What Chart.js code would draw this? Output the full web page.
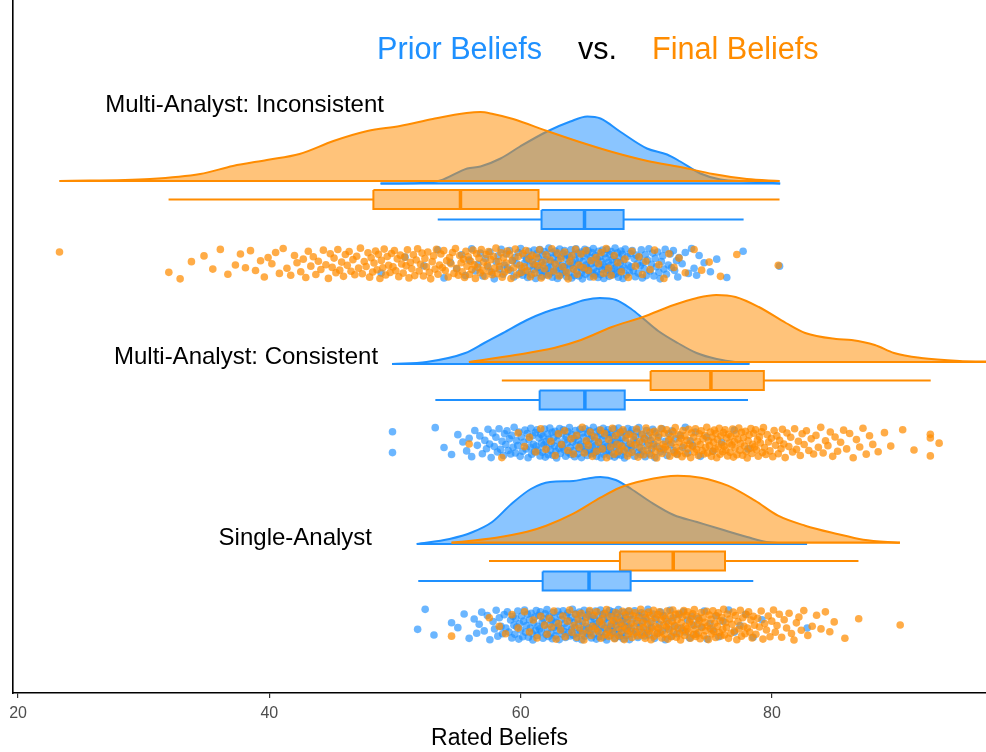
<!DOCTYPE html>
<html><head><meta charset="utf-8">
<script src="https://cdn.jsdelivr.net/npm/chart.js@4.4.1/dist/chart.umd.min.js"></script>
<style>html,body{margin:0;padding:0;background:#fff;overflow:hidden}canvas{display:block}</style>
</head><body>
<canvas id="c" width="986" height="752"></canvas>
<script>
// ---------------- DATA ----------------
const groupLabels = ['Multi-Analyst: Inconsistent', 'Multi-Analyst: Consistent', 'Single-Analyst'];
const seriesLabels = ['Prior Beliefs', 'Final Beliefs'];
const xTicks = [20, 40, 60, 80];
const xAxisTitle = 'Rated Beliefs';

// density curves (x = rating, d = relative density)
const densIncPriorX = [48.85,52.0,53.6,55.75,56.8,58.4,59.95,62.1,63.95,65.3,66.35,67.9,70.05,71.65,72.7,74.3,75.9,78.05,80.65];
const densIncPriorD = [0,0.5,3,15,17,25,37,52,62,67,65,52,35,29,22,10,4,2,0];
const densIncFinalX = [23.3,30.5,34.5,37.1,39.8,42.4,45.1,47.8,50.4,53.0,55.7,56.8,57.8,59.4,62.1,64.7,67.3,70.1,72.7,75.3,78.0,80.6];
const densIncFinalD = [0,2,7,15,21,27,40,50,55,62,68,69,67,62,50,39,29,20,14,7,2,0];
const densConPriorX = [49.76,52.5,55.6,57.1,58.6,60.5,62.0,63.6,65.1,66.3,67.6,68.8,69.7,70.95,72.5,74.0,75.6,78.2];
const densConPriorD = [0,2,11,21,31,44,52,58,64,66,64,55,46,33,21,11,5,0];
const densConFinalX = [55.88,59.57,62.65,64.8,67.26,69.73,72.18,74.03,75.57,77.1,78.95,81.11,82.64,85.1,86.33,88.18,89.71,91.87,94.94,97.0,98.0];
const densConFinalD = [0,7,14,22,35,45,57,64,67,65,55,39,29,23,22,17,9,4,1,0.4,0];
const densSinPriorX = [51.73,54.34,56.19,57.73,59.26,60.81,62.34,64.19,65.11,66.34,67.57,68.8,70.34,72.18,74.03,75.88,78.02,79.56,82.79];
const densSinPriorD = [0,5,12,22,40,55,62,63,65,67,64,55,42,29,22,15,7,2,0];
const densSinFinalX = [54.5,58.04,60.5,62.03,64.19,66.34,67.88,69.73,72.49,74.33,76.49,78.65,80.48,82.64,85.1,87.26,90.18];
const densSinFinalD = [0,5,11,17,29,45,55,62,67,65,57,42,27,17,9,3,0];

// box statistics [lower whisker, Q1, median, Q3, upper whisker]
const boxIncPrior = [53.4, 61.66, 65.08, 68.19, 77.74];
const boxIncFinal = [31.98, 48.28, 55.21, 61.42, 80.6];
const boxConPrior = [53.21, 61.51, 65.11, 68.28, 78.09];
const boxConFinal = [58.5, 70.34, 75.14, 79.35, 92.63];
const boxSinPrior = [51.85, 61.75, 65.44, 68.75, 78.51];
const boxSinFinal = [57.48, 67.9, 72.14, 76.26, 86.88];

// individual ratings
const ptsIncPrior = [48.9,50.8,52.3,53.4,53.9,54.4,54.9,55.3,55.6,55.9,56.1,56.4,56.6,56.8,57.0,57.2,57.4,57.55,57.7,57.9,58.05,58.2,58.3,58.45,58.6,58.7,58.85,58.95,59.1,59.2,59.35,59.45,59.55,59.7,59.8,59.9,60.0,60.08,60.17,60.25,60.33,60.4,60.48,60.56,60.63,60.7,60.78,60.85,60.92,61.0,61.07,61.13,61.2,61.27,61.34,61.4,61.47,61.53,61.6,61.65,
61.71,61.76,61.83,61.88,61.95,62.0,62.06,62.12,62.17,62.24,62.29,62.35,62.4,62.47,62.52,62.58,62.63,62.7,62.75,62.81,62.86,62.93,62.98,63.04,63.1,63.15,63.21,63.27,63.32,63.38,63.44,63.49,63.55,63.61,63.66,63.72,63.78,63.83,63.89,63.95,64.0,64.06,64.12,64.17,64.23,64.29,64.34,64.4,64.46,64.51,64.57,64.63,64.68,64.74,64.8,64.85,64.91,64.96,65.02,65.07,
65.1,65.15,65.21,65.26,65.31,65.36,65.42,65.47,65.52,65.57,65.62,65.68,65.73,65.78,65.83,65.88,65.94,65.99,66.04,66.09,66.15,66.2,66.25,66.3,66.36,66.41,66.46,66.51,66.57,66.62,66.67,66.72,66.78,66.83,66.88,66.93,66.99,67.04,67.09,67.14,67.2,67.25,67.3,67.35,67.41,67.46,67.51,67.56,67.62,67.67,67.72,67.77,67.83,67.88,67.93,67.98,68.04,68.09,68.14,68.18,
68.24,68.32,68.4,68.48,68.56,68.64,68.72,68.8,68.88,68.96,69.04,69.12,69.2,69.28,69.36,69.44,69.52,69.6,69.68,69.76,69.84,69.92,70.0,70.1,70.2,70.3,70.4,70.5,70.6,70.7,70.8,70.9,71.0,71.1,71.2,71.3,71.4,71.5,71.6,71.75,71.9,72.0,72.15,72.25,72.4,72.5,72.6,72.85,73.1,73.35,73.6,73.8,74.0,74.2,74.6,75.1,75.6,76.4,77.7,80.6];
const ptsIncFinal = [23.3,32.0,32.9,33.8,34.8,35.5,36.1,36.7,37.3,37.7,38.1,38.5,38.9,39.3,39.6,39.9,40.2,40.5,40.8,41.1,41.4,41.7,42.0,42.2,42.5,42.7,42.9,43.1,43.3,43.5,43.7,43.9,44.1,44.3,44.5,44.7,44.85,45.0,45.15,45.3,45.45,45.6,45.75,45.9,46.05,46.2,46.35,46.5,46.65,46.8,46.95,47.1,47.25,47.4,47.55,47.7,47.85,47.98,48.1,48.22,
48.33,48.45,48.57,48.68,48.8,48.91,49.03,49.14,49.26,49.38,49.49,49.61,49.72,49.84,49.95,50.07,50.18,50.3,50.42,50.53,50.65,50.76,50.88,50.99,51.11,51.22,51.34,51.46,51.57,51.69,51.8,51.92,52.03,52.15,52.26,52.38,52.5,52.61,52.73,52.84,52.96,53.07,53.19,53.3,53.42,53.54,53.65,53.77,53.88,54.0,54.11,54.23,54.34,54.46,54.58,54.69,54.81,54.92,55.04,55.15,
55.26,55.35,55.45,55.54,55.64,55.73,55.83,55.92,56.02,56.11,56.21,56.3,56.4,56.49,56.59,56.68,56.78,56.87,56.97,57.06,57.16,57.25,57.35,57.44,57.54,57.63,57.73,57.83,57.93,58.03,58.13,58.23,58.33,58.43,58.53,58.63,58.73,58.83,58.93,59.03,59.13,59.23,59.33,59.45,59.57,59.69,59.81,59.93,60.05,60.17,60.29,60.41,60.53,60.65,60.77,60.89,61.01,61.13,61.25,61.37,
61.5,61.63,61.76,61.89,62.02,62.2,62.34,62.48,62.63,62.77,62.92,63.06,63.2,63.35,63.49,63.64,63.78,63.92,64.07,64.21,64.36,64.5,64.64,64.8,65.0,65.2,65.4,65.6,65.8,66.0,66.2,66.4,66.6,66.8,67.0,67.2,67.45,67.73,68.01,68.29,68.57,68.85,69.13,69.41,69.69,69.97,70.3,70.65,71.0,71.4,71.8,72.2,72.6,73.1,73.8,74.4,75.0,75.9,77.2,80.5];
const ptsConPrior = [49.8,49.8,53.2,53.9,54.5,55.0,55.4,55.7,55.9,56.1,56.35,56.55,56.75,56.95,57.15,57.28,57.4,57.53,57.65,57.78,57.9,58.03,58.15,58.28,58.4,58.52,58.63,58.72,58.82,58.91,59.01,59.1,59.2,59.29,59.39,59.48,59.58,59.67,59.77,59.86,59.96,60.05,60.15,60.24,60.34,60.43,60.52,60.59,60.66,60.74,60.81,60.88,60.95,61.02,61.1,61.17,61.24,61.31,61.38,61.46,
61.54,61.6,61.66,61.72,61.78,61.84,61.9,61.96,62.02,62.08,62.14,62.2,62.26,62.32,62.38,62.44,62.5,62.56,62.62,62.68,62.74,62.8,62.86,62.92,62.98,63.04,63.1,63.16,63.22,63.28,63.34,63.4,63.46,63.52,63.58,63.64,63.7,63.76,63.82,63.88,63.94,64.0,64.06,64.12,64.18,64.24,64.3,64.36,64.42,64.48,64.54,64.6,64.66,64.72,64.78,64.84,64.9,64.96,65.02,65.08,
65.14,65.19,65.25,65.3,65.35,65.41,65.46,65.51,65.56,65.62,65.67,65.72,65.78,65.83,65.88,65.94,65.99,66.04,66.09,66.15,66.2,66.25,66.31,66.36,66.41,66.47,66.52,66.57,66.62,66.68,66.73,66.78,66.84,66.89,66.94,67.0,67.05,67.1,67.15,67.21,67.26,67.31,67.37,67.42,67.47,67.53,67.58,67.63,67.68,67.74,67.79,67.84,67.9,67.95,68.0,68.06,68.11,68.16,68.21,68.26,
68.33,68.4,68.46,68.53,68.6,68.66,68.73,68.8,68.86,68.93,69.0,69.06,69.13,69.2,69.26,69.33,69.4,69.46,69.53,69.6,69.66,69.74,69.83,69.91,70.0,70.08,70.17,70.25,70.34,70.42,70.51,70.59,70.68,70.76,70.85,70.98,71.11,71.25,71.38,71.51,71.65,71.78,71.91,72.05,72.18,72.31,72.45,72.7,72.9,73.1,73.3,73.5,73.7,73.9,74.3,74.8,75.3,76.0,77.0,78.1];
const ptsConFinal = [55.9,58.5,59.8,60.3,60.7,61.2,61.6,62.0,62.4,62.75,63.0,63.25,63.5,63.75,64.0,64.2,64.45,64.65,64.9,65.06,65.22,65.38,65.55,65.71,65.87,66.03,66.19,66.35,66.51,66.67,66.84,67.0,67.16,67.3,67.42,67.54,67.66,67.78,67.9,68.02,68.14,68.26,68.38,68.5,68.62,68.74,68.86,68.98,69.1,69.22,69.34,69.46,69.58,69.68,69.78,69.88,69.98,70.08,70.18,70.28,
70.38,70.47,70.56,70.64,70.73,70.82,70.91,70.99,71.08,71.17,71.26,71.34,71.43,71.52,71.61,71.69,71.78,71.87,71.96,72.04,72.13,72.22,72.3,72.38,72.45,72.53,72.61,72.68,72.76,72.84,72.91,72.99,73.07,73.14,73.22,73.3,73.37,73.45,73.53,73.6,73.68,73.76,73.83,73.91,73.99,74.07,74.14,74.21,74.29,74.36,74.44,74.51,74.58,74.66,74.73,74.81,74.88,74.95,75.03,75.1,
75.17,75.23,75.29,75.35,75.41,75.47,75.53,75.6,75.67,75.73,75.8,75.87,75.93,76.0,76.07,76.13,76.2,76.27,76.33,76.4,76.47,76.53,76.6,76.67,76.73,76.8,76.87,76.93,77.0,77.06,77.14,77.21,77.29,77.36,77.44,77.51,77.58,77.66,77.73,77.81,77.88,77.95,78.03,78.1,78.18,78.25,78.32,78.4,78.47,78.55,78.62,78.69,78.77,78.84,78.91,79.0,79.08,79.16,79.24,79.32,
79.4,79.51,79.62,79.73,79.84,79.95,80.06,80.17,80.28,80.39,80.5,80.61,80.72,80.83,80.94,81.05,81.19,81.34,81.49,81.64,81.8,81.95,82.1,82.25,82.4,82.56,82.74,82.93,83.12,83.31,83.5,83.69,83.88,84.07,84.26,84.45,84.64,84.83,85.02,85.22,85.46,85.7,85.94,86.18,86.46,86.72,86.98,87.24,87.5,87.76,88.02,88.45,88.95,89.45,90.4,91.3,92.6,92.6,92.6,93.3];
const ptsSinPrior = [51.8,52.4,53.1,54.5,55.0,55.5,55.9,56.3,56.5,56.7,56.9,57.1,57.35,57.55,57.8,57.92,58.05,58.18,58.3,58.43,58.56,58.69,58.82,58.94,59.07,59.2,59.3,59.38,59.46,59.54,59.61,59.69,59.77,59.85,59.92,60.0,60.08,60.16,60.23,60.31,60.39,60.47,60.54,60.62,60.7,60.77,60.84,60.91,60.97,61.04,61.11,61.17,61.24,61.31,61.37,61.44,61.51,61.57,61.64,61.71,
61.78,61.84,61.9,61.96,62.03,62.09,62.15,62.21,62.27,62.33,62.4,62.46,62.52,62.58,62.64,62.7,62.77,62.83,62.89,62.95,63.01,63.07,63.14,63.2,63.26,63.32,63.38,63.44,63.51,63.57,63.63,63.69,63.75,63.81,63.88,63.94,64.0,64.06,64.12,64.18,64.25,64.31,64.37,64.43,64.49,64.55,64.62,64.68,64.74,64.8,64.86,64.92,64.99,65.05,65.11,65.17,65.23,65.29,65.36,65.42,
65.47,65.52,65.58,65.63,65.69,65.74,65.8,65.85,65.91,65.96,66.02,66.07,66.13,66.18,66.24,66.29,66.35,66.4,66.46,66.51,66.57,66.62,66.68,66.73,66.79,66.84,66.9,66.95,67.01,67.06,67.12,67.17,67.23,67.28,67.34,67.39,67.45,67.5,67.56,67.61,67.67,67.72,67.78,67.83,67.89,67.94,68.0,68.05,68.11,68.16,68.22,68.27,68.33,68.38,68.44,68.49,68.55,68.6,68.66,68.71,
68.8,68.89,68.98,69.07,69.15,69.24,69.33,69.42,69.51,69.6,69.69,69.78,69.86,69.95,70.04,70.13,70.22,70.3,70.41,70.53,70.65,70.78,70.9,71.02,71.14,71.27,71.39,71.51,71.63,71.76,71.88,72.0,72.12,72.27,72.44,72.61,72.78,72.95,73.11,73.28,73.45,73.62,73.79,73.96,74.15,74.38,74.61,74.84,75.07,75.3,75.53,75.76,76.1,76.55,77.0,77.45,77.9,78.5,79.2,82.8];
const ptsSinFinal = [54.5,57.5,58.3,58.8,59.3,59.8,60.3,60.7,61.0,61.3,61.6,61.9,62.1,62.28,62.46,62.64,62.82,63.0,63.18,63.36,63.54,63.72,63.9,64.08,64.24,64.35,64.47,64.58,64.69,64.81,64.92,65.03,65.15,65.26,65.37,65.49,65.6,65.71,65.83,65.94,66.05,66.17,66.28,66.38,66.47,66.56,66.65,66.75,66.84,66.93,67.02,67.11,67.2,67.29,67.38,67.47,67.56,67.65,67.74,67.84,
67.94,68.02,68.1,68.17,68.25,68.33,68.4,68.48,68.56,68.63,68.71,68.79,68.86,68.94,69.02,69.09,69.17,69.25,69.32,69.4,69.48,69.55,69.63,69.7,69.77,69.83,69.9,69.97,70.04,70.1,70.17,70.24,70.3,70.37,70.44,70.51,70.57,70.64,70.71,70.77,70.84,70.91,70.98,71.04,71.11,71.18,71.24,71.31,71.38,71.45,71.51,71.58,71.65,71.71,71.78,71.85,71.92,71.98,72.05,72.11,
72.18,72.25,72.32,72.39,72.46,72.52,72.59,72.65,72.72,72.78,72.85,72.91,72.98,73.04,73.11,73.17,73.24,73.3,73.37,73.43,73.5,73.56,73.63,73.69,73.76,73.82,73.89,73.95,74.02,74.08,74.15,74.21,74.28,74.37,74.44,74.51,74.58,74.65,74.72,74.8,74.87,74.94,75.01,75.08,75.15,75.22,75.3,75.37,75.44,75.51,75.58,75.65,75.72,75.8,75.87,75.94,76.01,76.08,76.15,76.22,
76.3,76.37,76.44,76.54,76.63,76.73,76.82,76.91,77.01,77.1,77.2,77.29,77.38,77.48,77.57,77.67,77.76,77.85,77.95,78.04,78.14,78.23,78.32,78.42,78.51,78.6,78.72,78.86,79.0,79.14,79.28,79.42,79.56,79.7,79.84,79.98,80.12,80.26,80.4,80.58,80.77,80.97,81.16,81.36,81.55,81.75,81.94,82.14,82.33,82.53,82.85,83.2,83.55,83.9,84.25,84.6,84.95,85.8,86.9,90.2];

// vertical jitter of the raw points (fraction of band half-height)
const jitter = [0.62,-0.41,0.15,-0.88,0.93,-0.07,0.34,-0.56,0.78,-0.23,-0.95,0.48,0.05,-0.67,0.81,-0.32,0.21,-0.74,0.57,0.99,
-0.12,-0.49,0.36,-0.91,0.69,0.10,-0.61,0.27,-0.83,0.45,-0.18,0.87,-0.38,0.02,-0.71,0.64,-0.97,0.31,0.76,-0.52,
-0.05,0.53,-0.28,0.90,-0.79,0.17,-0.44,0.71,-0.15,0.39,-0.86,0.08,0.96,-0.63,0.25,-0.35,0.60,-0.90,0.43,-0.09,
0.83,-0.58,0.12,-0.77,0.50,-0.25,0.73,-0.47,0.30,-0.99,0.66,-0.13,0.19,-0.69,0.88,-0.37,0.55,-0.03,-0.81,0.40,
-0.59,0.97,-0.20,0.28,-0.93,0.74,-0.45,0.11,0.58,-0.65,0.22,-0.84,0.47,-0.30,0.85,-0.54,0.03];

// ---------------- LAYOUT / STYLE ----------------
const BLUE = 'rgb(30,144,255)', ORANGE = 'rgb(255,140,0)';
const BLUE_F = 'rgba(30,144,255,0.52)', ORANGE_F = 'rgba(255,140,0,0.52)';
const BLUE_P = 'rgba(30,144,255,0.66)', ORANGE_P = 'rgba(255,140,0,0.72)';
const FONT = '"Liberation Sans", Arial, Helvetica, sans-serif';
const Y_MAX = 693;            // vertical scale runs top (0) to bottom (693)
const DENS_SCALE = 1.0;
const BOX_HALF = 9.5;
const JIT_HALF = 15.5;
const rows = [
  {densBase:[183.5,181], box:[219.5,199.5], jit:263.5, label:[49.12,112]},
  {densBase:[364,362],   box:[400,380.5],   jit:442.7, label:[48.65,364]},
  {densBase:[544,542.7], box:[581,561],     jit:624.7, label:[48.17,545]}
];
const densData = [[[densIncPriorX,densIncPriorD],[densIncFinalX,densIncFinalD]],
                  [[densConPriorX,densConPriorD],[densConFinalX,densConFinalD]],
                  [[densSinPriorX,densSinPriorD],[densSinFinalX,densSinFinalD]]];
const boxData = [[boxIncPrior,boxIncFinal],[boxConPrior,boxConFinal],[boxSinPrior,boxSinFinal]];
const ptsData = [[ptsIncPrior,ptsIncFinal],[ptsConPrior,ptsConFinal],[ptsSinPrior,ptsSinFinal]];
const cols = [[BLUE,BLUE_F,BLUE_P],[ORANGE,ORANGE_F,ORANGE_P]];

const datasets = [];
function line(data, color, width, extra) {
  datasets.push(Object.assign({data, borderColor: color, borderWidth: width, pointRadius: 0, fill: false, tension: 0}, extra || {}));
}
rows.forEach((r, g) => {
  [0,1].forEach(s => {
    const [xs, ds] = densData[g][s];
    const base = r.densBase[s];
    line(xs.map((x,i) => ({x, y: base - ds[i]*DENS_SCALE})), cols[s][0], 2,
         {backgroundColor: cols[s][1], fill: {value: base}, cubicInterpolationMode: 'monotone'});
    line([{x: xs[0], y: base}, {x: xs[xs.length-1], y: base}], cols[s][0], 2.2);
  });
  [1,0].forEach(s => {
    const [lo,q1,med,q3,hi] = boxData[g][s];
    const c = r.box[s], t = c - BOX_HALF, b = c + BOX_HALF;
    line([{x:q1,y:t},{x:q3,y:t}], 'rgba(0,0,0,0)', 0, {backgroundColor: cols[s][1], fill: {value: b}});
    line([{x:q1,y:t},{x:q3,y:t},{x:q3,y:b},{x:q1,y:b},{x:q1,y:t}], cols[s][0], 2);
    line([{x:med,y:t},{x:med,y:b}], cols[s][0], 3.5);
    line([{x:lo,y:c},{x:q1,y:c}], cols[s][0], 2);
    line([{x:q3,y:c},{x:hi,y:c}], cols[s][0], 2);
  });
});
rows.forEach((r, g) => {
  [0,1].forEach(s => {
    const off = (g*2 + s) * 17;
    datasets.push({
      data: ptsData[g][s].map((x,i) => ({x, y: r.jit + jitter[(i+off) % jitter.length]*JIT_HALF})),
      showLine: false, pointRadius: 3.8, pointBackgroundColor: cols[s][2],
      pointBorderWidth: 0, pointBorderColor: 'rgba(0,0,0,0)', borderColor: cols[s][2]
    });
  });
});
datasets.forEach((d, i) => { d.order = -i; });

const textPlugin = {
  id: 'texts',
  afterDraw(chart) {
    const {ctx, scales: {x, y}} = chart;
    ctx.save();
    ctx.textBaseline = 'alphabetic';
    ctx.font = '24px ' + FONT;
    ctx.fillStyle = '#000';
    ctx.textAlign = 'right';
    rows.forEach((r, g) => ctx.fillText(groupLabels[g], x.getPixelForValue(r.label[0]), y.getPixelForValue(r.label[1])));
    ctx.textAlign = 'left';
    ctx.font = '30.6px ' + FONT;
    const ty = y.getPixelForValue(59);
    ctx.fillStyle = BLUE;  ctx.fillText(seriesLabels[0], x.getPixelForValue(48.57), ty);
    ctx.fillStyle = '#000'; ctx.fillText('vs.', x.getPixelForValue(64.56), ty);
    ctx.fillStyle = ORANGE; ctx.fillText(seriesLabels[1], x.getPixelForValue(70.45), ty);
    ctx.restore();
  }
};

new Chart(document.getElementById('c'), {
  type: 'line',
  data: { datasets },
  options: {
    responsive: false,
    animation: false,
    events: [],
    layout: { autoPadding: false, padding: { left: 12, right: 0, top: 0, bottom: 0 } },
    plugins: { legend: { display: false }, tooltip: { enabled: false }, title: { display: false } },
    scales: {
      x: {
        type: 'linear', min: 19.6, max: 97.03,
        afterBuildTicks: sc => { sc.ticks = xTicks.map(v => ({value: v})); },
        afterFit: sc => { sc.height = 59; sc.paddingLeft = 0; sc.paddingRight = 0; },
        border: { display: true, color: '#000', width: 1.6 },
        grid: { display: true, drawOnChartArea: false, drawTicks: true, tickLength: 5, color: '#333', lineWidth: 1.2 },
        ticks: { color: '#4D4D4D', font: { family: FONT, size: 16 }, padding: 6, maxRotation: 0 },
        title: { display: true, text: xAxisTitle, color: '#000', font: { family: FONT, size: 23 }, padding: { top: 0, bottom: 0 } }
      },
      y: {
        type: 'linear', min: 0, max: Y_MAX, reverse: true,
        afterFit: sc => { sc.width = 1; sc.paddingTop = 0; sc.paddingBottom = 0; },
        border: { display: true, color: '#000', width: 1.6 },
        grid: { display: false },
        ticks: { display: false }
      }
    }
  },
  plugins: [textPlugin]
});
</script>
</body></html>
